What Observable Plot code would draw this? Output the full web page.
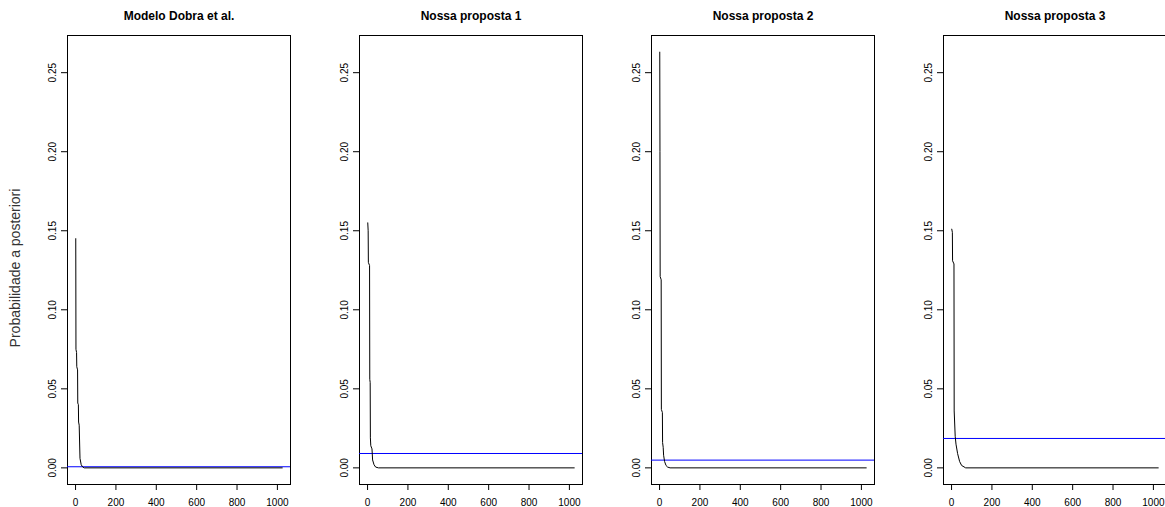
<!DOCTYPE html>
<html>
<head>
<meta charset="utf-8">
<script src="https://cdn.jsdelivr.net/npm/d3@7"></script>
<script src="https://cdn.jsdelivr.net/npm/@observablehq/plot@0.6"></script>
<style>
  html, body { margin: 0; padding: 0; background: #fff; overflow: hidden; }
  #wrap { position: relative; width: 1165px; height: 507px; overflow: hidden; }
  #wrap > svg { position: absolute; top: 0; }
</style>
</head>
<body>
<div id="wrap"></div>
<script>
// ---- data ----
const panelTitles = ["Modelo Dobra et al.", "Nossa proposta 1", "Nossa proposta 2", "Nossa proposta 3"];

const idx1  = [1, 2, 5, 6, 10, 11, 14, 15, 18, 22, 28, 35, 43, 1024];
const prob1 = [0.145, 0.075, 0.073, 0.064, 0.062, 0.041, 0.040, 0.029, 0.027, 0.006, 0.002, 0.0006, 0, 0];

const idx2  = [1, 3, 4, 10, 11, 13, 14, 16, 22, 25, 32, 40, 54, 1024];
const prob2 = [0.155, 0.150, 0.130, 0.128, 0.056, 0.054, 0.019, 0.014, 0.012, 0.005, 0.002, 0.0005, 0, 0];

const idx3  = [1, 2, 3, 8, 9, 14, 15, 18, 20, 25, 32, 40, 52, 1024];
const prob3 = [0.263, 0.200, 0.121, 0.119, 0.037, 0.035, 0.016, 0.013, 0.008, 0.004, 0.0015, 0.0005, 0, 0];

const idx4  = [1, 4, 5, 12, 13, 18, 22, 30, 40, 50, 70, 1024];
const prob4 = [0.151, 0.149, 0.131, 0.129, 0.036, 0.020, 0.015, 0.009, 0.004, 0.0015, 0, 0];

const priorLines = [0.0007, 0.0091, 0.0049, 0.0186];

const xTicks = [0, 200, 400, 600, 800, 1000];
const yTicks = [0, 0.05, 0.10, 0.15, 0.20, 0.25];
const yLabel = "Probabilidade a posteriori";

// ---- drawing ----
const series = [[idx1, prob1], [idx2, prob2], [idx3, prob3], [idx4, prob4]];
const wrap = document.getElementById("wrap");
const panelW = 292;

series.forEach(([xs, ys], k) => {
  const data = xs.map((x, i) => ({x, y: ys[i]}));
  const marks = [
    Plot.frame({stroke: "black", strokeWidth: 1}),
    Plot.ruleY([priorLines[k]], {stroke: "#0000ff", strokeWidth: 1}),
    Plot.line(data, {x: "x", y: "y", stroke: "black", strokeWidth: 1}),
    Plot.axisX(xTicks, {tickSize: 6, tickPadding: 8, tickFormat: d => String(d), label: null,
      fontSize: 10, fill: "black", stroke: "black"}),
    Plot.axisY(yTicks, {tickSize: 6, tickFormat: () => "", label: null, stroke: "black"}),
    Plot.text(yTicks, {y: d => d, text: d => d.toFixed(2), frameAnchor: "left", dx: -15, rotate: -90,
      textAnchor: "middle", lineAnchor: "middle", fontSize: 10, fill: "black"}),
    Plot.text([panelTitles[k]], {text: d => d, frameAnchor: "top", lineAnchor: "bottom", dy: -16,
      fontWeight: "bold", fontSize: 12, fill: "black"})
  ];
  if (k === 0) {
    marks.push(Plot.text([yLabel], {text: d => d, frameAnchor: "left", dx: -52, dy: 8, rotate: -90,
      textAnchor: "middle", lineAnchor: "middle", fontSize: 14, fill: "#333"}));
  }
  const svg = Plot.plot({
    width: panelW,
    height: 507,
    marginLeft: 67,
    marginRight: 2,
    marginTop: 35,
    marginBottom: 23,
    style: {fontFamily: "'Liberation Sans', Arial, sans-serif", background: "transparent", overflow: "visible"},
    x: {domain: [-39.92, 1064.92], axis: null},
    y: {domain: [-0.01052, 0.27352], axis: null},
    marks
  });
  svg.style.left = (k * panelW) + "px";
  wrap.appendChild(svg);
});
</script>
</body>
</html>
